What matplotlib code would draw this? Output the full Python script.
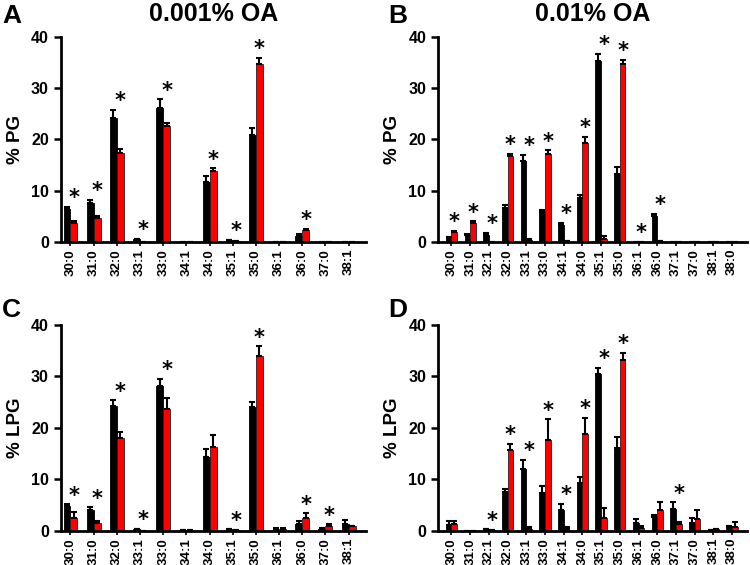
import matplotlib
matplotlib.use("Agg")
import numpy as np
import matplotlib.pyplot as plt

plt.rcParams['font.family'] = ['Liberation Sans', 'DejaVu Sans']
plt.rcParams['font.weight'] = 'bold'

cats_short = ['30:0', '31:0', '32:0', '33:1', '33:0', '34:1', '34:0', '35:1',
              '35:0', '36:1', '36:0', '37:0', '38:1']
cats_long = ['30:0', '31:0', '32:1', '32:0', '33:1', '33:0', '34:1', '34:0',
             '35:1', '35:0', '36:1', '36:0', '37:1', '37:0', '38:1', '38:0']

# A: PG, 0.001% OA
a_black = [6.4, 7.7, 24.2, 0.5, 26.2, 0.0, 11.7, 0.3, 20.8, 0.0, 1.2, 0.0, 0.0]
a_black_err = [0.5, 0.5, 1.6, 0.1, 1.6, 0.0, 1.2, 0.1, 1.4, 0.0, 0.4, 0.0, 0.0]
a_red = [3.7, 4.7, 17.3, 0.0, 22.6, 0.0, 13.8, 0.1, 34.7, 0.0, 2.3, 0.0, 0.0]
a_red_err = [0.3, 0.4, 0.8, 0.0, 0.6, 0.0, 0.6, 0.0, 1.2, 0.0, 0.3, 0.0, 0.0]
a_sig = ['30:0', '31:0', '32:0', '33:1', '33:0', '34:0', '35:1', '35:0', '36:0']

# B: PG, 0.01% OA
b_black = [0.9, 1.4, 1.4, 6.6, 15.7, 5.8, 3.3, 8.5, 35.3, 13.2, 0.0, 5.1,
           0.05, 0.0, 0.05, 0.05]
b_black_err = [0.1, 0.1, 0.4, 0.6, 1.3, 0.5, 0.5, 0.6, 1.4, 1.4, 0.0, 0.4,
               0.0, 0.0, 0.0, 0.0]
b_red = [2.0, 3.8, 0.0, 16.8, 0.4, 17.1, 0.1, 19.3, 0.6, 34.7, 0.0, 0.1,
         0.05, 0.0, 0.0, 0.0]
b_red_err = [0.2, 0.2, 0.0, 0.4, 0.1, 0.8, 0.0, 1.2, 0.6, 0.8, 0.0, 0.0,
             0.0, 0.0, 0.0, 0.0]
b_sig = ['30:0', '31:0', '32:1', '32:0', '33:1', '33:0', '34:1', '34:0',
         '35:1', '35:0', '36:1', '36:0']

# C: LPG, 0.001% OA
c_black = [4.8, 4.0, 24.3, 0.4, 28.2, 0.1, 14.3, 0.3, 24.0, 0.2, 1.4, 0.4, 1.4]
c_black_err = [0.4, 0.6, 1.1, 0.05, 1.4, 0.0, 1.7, 0.05, 1.0, 0.3, 0.6, 0.2, 0.7]
c_red = [2.6, 1.6, 18.0, 0.0, 23.6, 0.1, 16.4, 0.1, 33.9, 0.3, 2.6, 1.0, 0.9]
c_red_err = [1.1, 0.3, 1.2, 0.0, 2.3, 0.0, 2.2, 0.0, 2.0, 0.2, 0.8, 0.3, 0.1]
c_sig = ['30:0', '31:0', '32:0', '33:1', '33:0', '35:1', '35:0', '36:0', '37:0']

# D: LPG, 0.01% OA
d_black = [1.2, 0.0, 0.3, 7.6, 12.0, 7.4, 4.0, 9.4, 30.5, 16.2, 1.5, 2.7,
           4.3, 1.6, 0.1, 0.9]
d_black_err = [0.8, 0.0, 0.05, 0.5, 1.8, 1.3, 1.3, 1.1, 1.2, 2.0, 0.9, 0.4,
               1.3, 1.0, 0.0, 0.1]
d_red = [1.4, 0.0, 0.1, 15.8, 0.3, 17.7, 0.3, 18.8, 2.6, 33.2, 0.5, 4.0,
         1.3, 2.4, 0.3, 0.7]
d_red_err = [0.5, 0.0, 0.0, 1.1, 0.5, 4.0, 0.4, 3.2, 1.9, 1.4, 0.5, 1.6,
             0.4, 1.6, 0.0, 1.0]
d_sig = ['32:1', '32:0', '33:1', '33:0', '34:1', '34:0', '35:1', '35:0', '37:1']

fig = plt.figure(figsize=(7.5, 5.65), dpi=100)

panels = [
    ('A', [0.081, 0.5717, 0.407, 0.363], cats_short, a_black, a_black_err, a_red, a_red_err, a_sig, '% PG', '0.001% OA'),
    ('B', [0.584, 0.5717, 0.412, 0.363], cats_long, b_black, b_black_err, b_red, b_red_err, b_sig, '% PG', '0.01% OA'),
    ('C', [0.081, 0.0602, 0.407, 0.3646], cats_short, c_black, c_black_err, c_red, c_red_err, c_sig, '% LPG', None),
    ('D', [0.584, 0.0602, 0.412, 0.3646], cats_long, d_black, d_black_err, d_red, d_red_err, d_sig, '% LPG', None),
]

w = 0.3
for letter, rect, cats, bk, bk_e, rd, rd_e, sig, ylab, title in panels:
    ax = fig.add_axes(rect)
    x = np.arange(len(cats))
    bk = np.array(bk); rd = np.array(rd)
    bk_e = np.array(bk_e); rd_e = np.array(rd_e)
    ax.bar(x - w / 2, bk, w, color='black', edgecolor='black', linewidth=0.6, zorder=2)
    ax.bar(x + w / 2, rd, w, color='#ff0000', edgecolor='#222222', linewidth=0.6, zorder=2)
    ax.errorbar(x - w / 2, bk, yerr=[np.zeros_like(bk_e), bk_e], fmt='none',
                ecolor='black', elinewidth=1.5, capsize=2.5, capthick=1.5, zorder=3)
    ax.errorbar(x + w / 2, rd, yerr=[np.zeros_like(rd_e), rd_e], fmt='none',
                ecolor='black', elinewidth=1.5, capsize=2.5, capthick=1.5, zorder=3)
    tops = np.maximum(bk + bk_e, rd + rd_e)
    for c in sig:
        i = cats.index(c)
        ax.text(i + w / 2, tops[i] + 0.5, '*', ha='center', va='baseline',
                fontsize=15, fontweight='bold', family='DejaVu Sans')

    if len(cats) == 13:
        ax.set_xlim(-0.42, 12.75)
    else:
        ax.set_xlim(-0.72, 15.8)
    ax.set_ylim(0, 40)
    ax.set_yticks([0, 10, 20, 30, 40])
    ax.set_xticks(x)
    ax.set_xticklabels(cats, rotation=90, fontsize=9.5, fontweight='bold')
    ax.tick_params(axis='y', labelsize=11.5, width=1.8, length=5)
    ax.tick_params(axis='x', width=1.2, length=3, pad=2)
    for lab in ax.get_yticklabels():
        lab.set_fontweight('bold')
    for s in ['top', 'right']:
        ax.spines[s].set_visible(False)
    for s in ['left', 'bottom']:
        ax.spines[s].set_linewidth(2)
    ax.set_ylabel(ylab, fontsize=13.5, fontweight='bold', labelpad=5)

    lx = 0.003 if letter in 'AC' else 0.517
    ly = rect[1] + rect[3] + (0.058 if letter in 'AB' else 0.048)
    fig.text(lx, ly, letter, fontsize=19, fontweight='bold', ha='left', va='top')
    if title:
        fig.text(rect[0] + rect[2] / 2, 0.975, title, fontsize=18,
                 fontweight='bold', ha='center', va='center')

fig.savefig('out.png', dpi=100)
